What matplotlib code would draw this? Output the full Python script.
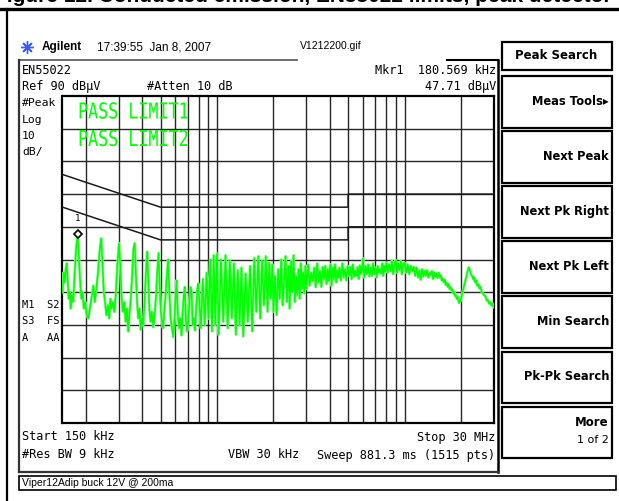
import matplotlib
matplotlib.use("Agg")
import matplotlib.pyplot as plt
from matplotlib.patches import Rectangle, PathPatch
from matplotlib.textpath import TextPath
from matplotlib.font_manager import FontProperties
from matplotlib.transforms import Affine2D
from matplotlib.ticker import NullLocator

# trace, MHz / dBuV
# harmonics of the ~60 kHz switching frequency
harm_freq = [0.150, 0.152, 0.154, 0.156, 0.158, 0.160, 0.162, 0.164, 0.166, 0.168,
             0.171, 0.174, 0.177, 0.1806, 0.183, 0.186, 0.189, 0.192, 0.195, 0.198,
             0.202, 0.206, 0.210, 0.214, 0.219, 0.223, 0.227, 0.232, 0.236, 0.241,
             0.245, 0.249, 0.253, 0.257, 0.262, 0.266, 0.270, 0.274, 0.279, 0.284,
             0.289, 0.294, 0.300, 0.305, 0.310, 0.315, 0.320, 0.326, 0.331, 0.336,
             0.341, 0.346, 0.352, 0.358, 0.364, 0.369, 0.375, 0.380, 0.386, 0.392,
             0.398, 0.404, 0.410, 0.417, 0.424, 0.430, 0.436, 0.442, 0.449, 0.457,
             0.465, 0.472, 0.480, 0.488, 0.495, 0.502, 0.509, 0.516, 0.523, 0.530,
             0.540, 0.549, 0.557, 0.566, 0.575, 0.585, 0.594, 0.603, 0.609, 0.617,
             0.628, 0.637, 0.647, 0.656, 0.665, 0.673, 0.682, 0.691, 0.700, 0.712,
             0.722, 0.732, 0.742, 0.752, 0.763, 0.774, 0.785, 0.795]
harm_db = [30, 36, 33, 37, 38.8, 33, 28, 30, 25, 29,
           27, 35, 43, 47.7, 42, 34, 28, 30, 25, 27,
           23, 22, 25, 28, 32, 27, 31, 36, 42, 46.5,
           39, 30, 27, 23, 26, 22, 28, 25, 27, 24,
           30, 38, 45, 38, 28, 24, 27, 21, 25, 18,
           23, 27, 34, 43, 45, 36, 27, 22, 25, 18.5,
           22, 20, 26, 35, 42.4, 33, 25, 21, 24, 19.3,
           23, 28, 36, 42, 32, 24, 21, 19, 24, 28,
           35, 40, 30, 22, 19, 16.3, 22, 30, 33.6, 24,
           19, 22, 16.8, 24, 29, 31.6, 22, 18, 20, 27,
           31.6, 30, 20, 22, 18.3, 25, 31, 32.6]

mid_freq = [0.82, 0.84, 0.86, 0.88, 0.90, 0.92, 0.94, 0.96, 0.98, 1.00,
            1.02, 1.05, 1.08, 1.11, 1.14, 1.17, 1.20, 1.23, 1.26, 1.29,
            1.32, 1.35, 1.38, 1.42, 1.46, 1.50, 1.54, 1.58, 1.62, 1.66,
            1.70, 1.74, 1.78, 1.82, 1.86, 1.90, 1.94, 1.97]
mid_db = [19, 34, 20, 36, 22, 40, 18, 41.3, 20, 41.8,
          17, 40, 21, 41.3, 19, 39.8, 22, 38.8, 17, 36.7,
          20, 37.5, 16.5, 35.7, 21, 38, 18, 40.5, 24, 41,
          22, 39.8, 26, 41, 24, 39, 28, 38.5]

band_freq = [2.00, 2.04, 2.08, 2.12, 2.16, 2.20, 2.24, 2.28, 2.32, 2.36,
             2.40, 2.44, 2.48, 2.52, 2.56, 2.60, 2.64, 2.68, 2.72, 2.76,
             2.80, 2.84, 2.88, 2.92, 2.96,
             3.00, 3.06, 3.12, 3.18, 3.24, 3.30, 3.36, 3.42, 3.48, 3.54,
             3.60, 3.66, 3.72, 3.78, 3.84, 3.90, 3.96, 4.02, 4.08, 4.14,
             4.20, 4.26, 4.32, 4.38, 4.44,
             4.50, 4.58, 4.66, 4.74, 4.82, 4.90, 4.98, 5.06, 5.14, 5.22,
             5.30, 5.38, 5.46, 5.54, 5.62, 5.70, 5.78, 5.86, 5.94,
             6.0, 6.1, 6.2, 6.3, 6.4, 6.5, 6.6, 6.7, 6.8, 6.9,
             7.0, 7.1, 7.2, 7.3, 7.4, 7.5, 7.6, 7.7, 7.8, 7.9,
             8.00, 8.14, 8.28, 8.42, 8.56, 8.70, 8.84, 8.98, 9.12, 9.26,
             9.40, 9.54, 9.68, 9.82]
band_db = [24, 35, 23, 37, 28, 40, 26, 34, 41, 27,
           38, 25, 39.5, 30, 41.3, 27, 35, 29, 37, 28,
           38.8, 31, 36, 29.6, 38,
           31, 38.5, 32, 36, 33.5, 37.5, 31.5, 38.8, 33, 36.5,
           31.6, 37.7, 34, 38, 32.5, 37, 33.5, 38.5, 32, 37.5,
           34, 38.5, 33, 36.8, 34.5,
           37.5, 33.6, 38.8, 34.5, 37, 33.6, 38, 35, 37.7, 34,
           38.5, 34.7, 36.5, 35, 37.7, 34, 38.2, 35.5, 37,
           40.3, 34.5, 38, 35.5, 38.5, 34.8, 37.5, 35, 38.8, 35.5,
           37.5, 34.5, 38, 36, 37, 35.7, 38.8, 35, 38, 36.2,
           39, 36, 38.5, 36.5, 39.5, 35.5, 38.5, 39.8, 36, 38.8,
           36.7, 39.5, 35.5, 38.5]

high_freq = [10.0, 10.2, 10.4, 10.6, 10.8, 11.0, 11.2, 11.4, 11.6, 11.8,
             12.0, 12.2, 12.4, 12.6, 12.8, 13.0, 13.2, 13.4, 13.6, 13.8,
             14.0, 14.2, 14.4, 14.6, 14.8, 15.0, 15.2, 15.4, 15.6, 15.8,
             16.0, 16.2, 16.4, 16.6, 16.8, 17.0, 17.2, 17.4, 17.6, 17.8,
             18.0, 18.2, 18.4, 18.6, 18.8, 19.0, 19.2, 19.4, 19.6,
             19.9, 20.2, 20.5, 20.8, 21.1, 21.4, 21.7, 22.0, 22.3, 22.6,
             22.9, 23.2, 23.5, 23.8, 24.1, 24.4, 24.7, 25.0, 25.4, 25.8,
             26.2, 26.6, 27.0, 27.4, 27.8, 28.2, 28.6, 29.0, 29.4, 29.8, 30.0]
high_db = [39, 36, 38.5, 35.5, 38, 36.5, 37.7, 35, 37.5, 34.5,
           36.7, 33.8, 37, 34.8, 36.5, 35, 36.7, 34.5, 36, 35.2,
           36.5, 34, 36, 34.8, 35.7, 34.3, 36, 34.5, 35.2, 33.6,
           34.2, 33, 33.8, 32.2, 32.8, 31.6, 32.5, 31, 31.5, 30.5,
           30.8, 29.6, 30.1, 28.8, 29, 28, 28.5, 27.2, 26.7,
           27.5, 29, 30.5, 32, 33.5, 35, 36.5, 37.6, 36.5, 35.5,
           35, 34, 34.5, 33, 33.6, 32, 32.5, 31.2, 31.6, 30,
           29.6, 29, 28.8, 27.5, 27.6, 26.5, 27, 26, 26.5, 25.4, 25.6]

# EN55022 class B limits (quasi-peak and average)
limit_freq = [0.15, 0.5, 5.0, 5.0, 30.0]
limit1_db = [66, 56, 56, 60, 60]
limit2_db = [56, 46, 46, 50, 50]

grid_freq = [0.2, 0.3, 0.4, 0.5, 0.6, 0.7, 0.8, 0.9, 1, 2, 3, 4, 5, 6, 7, 8, 9, 10, 20]
grid_db = [0, 10, 20, 30, 40, 50, 60, 70, 80]

marker_f = 0.180569
marker_db = 47.71

buttons = ["Meas Tools\u25b8", "Next Peak", "Next Pk Right", "Next Pk Left",
           "Min Search", "Pk-Pk Search", "More"]

W, H = 619, 501
mono = "DejaVu Sans Mono"
sans = "Liberation Sans"

fig = plt.figure(figsize=(W / 100, H / 100), dpi=100)
bg = fig.add_axes([0, 0, 1, 1])
bg.set_xlim(0, W)
bg.set_ylim(H, 0)
bg.axis("off")

# page borders and the caption line cut at the top edge
bg.text(-6, 1.5, "Figure 12. Conducted emission, EN55022 limits, peak detector", fontsize=15,
        fontweight="bold", family=sans, va="baseline")
bg.plot([0, W], [9, 9], color="black", lw=2.4)
bg.plot([7, 7], [9, H], color="black", lw=1.6)

# header
bg.plot([27], [47], marker=(8, 2, 0), ms=9, color="#3a5cff", mew=1)
bg.text(42, 47, "Agilent", fontsize=8.5, fontweight="bold", family=sans, va="center")
bg.text(97, 47, "17:39:55  Jan 8, 2007", fontsize=8.5, family=sans, va="center")
bg.text(300, 46, "V1212200.gif", fontsize=7.5, family=sans, va="center")

# screen frame
bg.plot([19, 297], [60, 60], color="#555555", lw=1.2)
bg.plot([447, 498], [60, 60], color="black", lw=1.5)
bg.plot([19, 19], [60, 472], color="#333333", lw=1.6)
bg.plot([498, 498], [60, 472], color="black", lw=1.8)
bg.plot([19, 498], [472, 472], color="#333333", lw=1.6)

txt = dict(family=mono, fontsize=8.6, va="center")
bg.text(22, 70, "EN55022", **txt)
bg.text(22, 86, "Ref 90 dB\u03bcV", **txt)
bg.text(147, 86, "#Atten 10 dB", **txt)
bg.text(496, 70, "Mkr1  180.569 kHz", ha="right", **txt)
bg.text(496, 86, "47.71 dB\u03bcV", ha="right", **txt)
for i, s in enumerate(["#Peak", "Log", "10", "dB/"]):
    bg.text(22, 103 + i * 16.5, s, family=mono, fontsize=8.2, va="center")
for i, s in enumerate(["M1  S2", "S3  FS", "A   AA"]):
    bg.text(22, 305 + i * 16.5, s, family=mono, fontsize=7.5, va="center")
bg.text(22, 437, "Start 150 kHz", **txt)
bg.text(495, 437, "Stop 30 MHz", ha="right", **txt)
bg.text(22, 455, "#Res BW 9 kHz", **txt)
bg.text(228, 455, "VBW 30 kHz", **txt)
bg.text(495, 455, "Sweep 881.3 ms (1515 pts)", ha="right", **txt)

# footer
bg.add_patch(Rectangle((19, 476), 597, 14, fill=False, ec="black", lw=1.2))
bg.text(22, 483, "Viper12Adip buck 12V @ 200ma", fontsize=7.5, family=sans, va="center")

# soft keys
bg.add_patch(Rectangle((501.5, 41.5), 110, 28.5, fill=False, ec="black", lw=1.6))
bg.text(556.5, 55.5, "Peak Search", fontsize=8.5, fontweight="bold", family="DejaVu Sans",
        ha="center", va="center")
for i, s in enumerate(buttons):
    top = 76 + i * 55.1
    bg.add_patch(Rectangle((501.5, top), 110, 51.5, fill=False, ec="black", lw=1.6))
    if s == "More":
        bg.text(609, top + 16, s, fontsize=8.5, fontweight="bold", family="DejaVu Sans",
                ha="right", va="center")
        bg.text(609, top + 33, "1 of 2", fontsize=8, family="DejaVu Sans",
                ha="right", va="center")
    else:
        bg.text(609, top + 25.5, s, fontsize=8.3, fontweight="bold", family="DejaVu Sans",
                ha="right", va="center")

# graticule
ax = fig.add_axes([62.5 / W, (H - 423) / H, (494 - 62.5) / W, (423 - 96) / H])
ax.set_facecolor("white")
ax.set_xscale("log")
ax.set_xlim(0.15, 30)
ax.set_ylim(-10, 90)
ax.set_xticks(grid_freq)
ax.xaxis.set_minor_locator(NullLocator())
ax.set_yticks(grid_db)
ax.tick_params(which="both", length=0, labelbottom=False, labelleft=False)
ax.grid(True, color="#262626", lw=1.0)
for sp in ax.spines.values():
    sp.set_linewidth(1.6)
    sp.set_color("black")

freq = harm_freq + mid_freq + band_freq + high_freq
level = harm_db + mid_db + band_db + high_db
ax.plot(freq, level, color="#8cff8c", lw=2.0, zorder=3)
ax.plot(freq, level, color="#00ff00", lw=1.1, zorder=4)

ax.plot(limit_freq, limit1_db, color="#1a1a1a", lw=1.1, zorder=3)
ax.plot(limit_freq, limit2_db, color="#1a1a1a", lw=1.1, zorder=3)

ax.plot([marker_f], [marker_db], marker="D", ms=4.5, mfc="white", mec="black", mew=1.2, zorder=5)
ax.annotate("1", (marker_f, marker_db), xytext=(0, 8), textcoords="offset points",
            ha="center", va="bottom", fontsize=6.5, family=mono)

# tall narrow screen font for the pass messages
for i, s in enumerate(["PASS LIMIT1", "PASS LIMIT2"]):
    tp = TextPath((0, 0), s, size=22, prop=FontProperties(family=mono))
    tr = Affine2D().scale(0.76, -1).translate(78, 118.5 + i * 27.5) + bg.transData
    fig.add_artist(PathPatch(tp, fc="#00ff00", ec="none", transform=tr, zorder=5))

fig.savefig("out.png", dpi=100)
